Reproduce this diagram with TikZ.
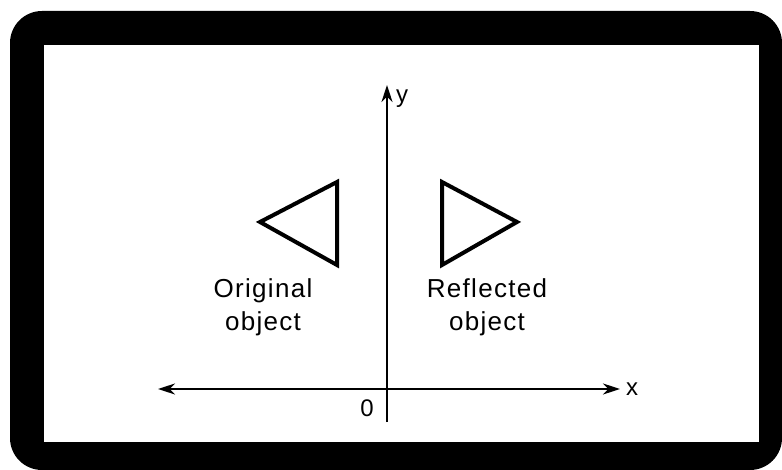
\documentclass[tikz,border=0pt]{standalone}
\usepackage{fontspec}
\setmainfont{Liberation Sans}[LetterSpace=5]
\usepackage{tikz}
\usetikzlibrary{
    arrows.meta,
    positioning
}
\tikzstyle{axis}=[line width=2.2pt,{Stealth[length=17pt,width=11pt]}-{Stealth[length=17pt,width=11pt]}]
\tikzstyle{tri}=[line width=4pt,line join=miter]

\begin{document}
\begin{tikzpicture}[
    x=1pt,y=-1pt,
    objtext/.style={font=\fontsize{26}{33}\selectfont,align=center,inner sep=0pt},
    axlabel/.style={font=\fontsize{24}{24}\selectfont,inner sep=0pt}
]
\useasboundingbox (0,0) rectangle (782,470);
\fill[black,rounded corners=32pt] (10,11) rectangle (782,470);
\fill[white] (44,45) rectangle (759,442);
\coordinate (xleft) at (158,389);
\coordinate (xright) at (620,389);
\coordinate (ybot) at (387,422);
\coordinate (ytop) at (387,85);
\draw[axis] (xleft) -- (xright);
\draw[axis,-{Stealth[length=17pt,width=11pt]}] (ybot) -- (ytop);
\node[axlabel,anchor=west] (xlab) at (626,389) {x};
\node[axlabel,anchor=west] (ylab) at (396,99) {y};
\node[axlabel] (zero) at (367,408) {0};
\draw[tri] (337,182) -- (337,265) -- (260,222) -- cycle;
\draw[tri] (442,182) -- (442,265) -- (517,222) -- cycle;
\node[objtext] (orig) at (263,307) {Original\\object};
\node[objtext] (refl) at (487,307) {Reflected\\object};
\end{tikzpicture}
\end{document}
